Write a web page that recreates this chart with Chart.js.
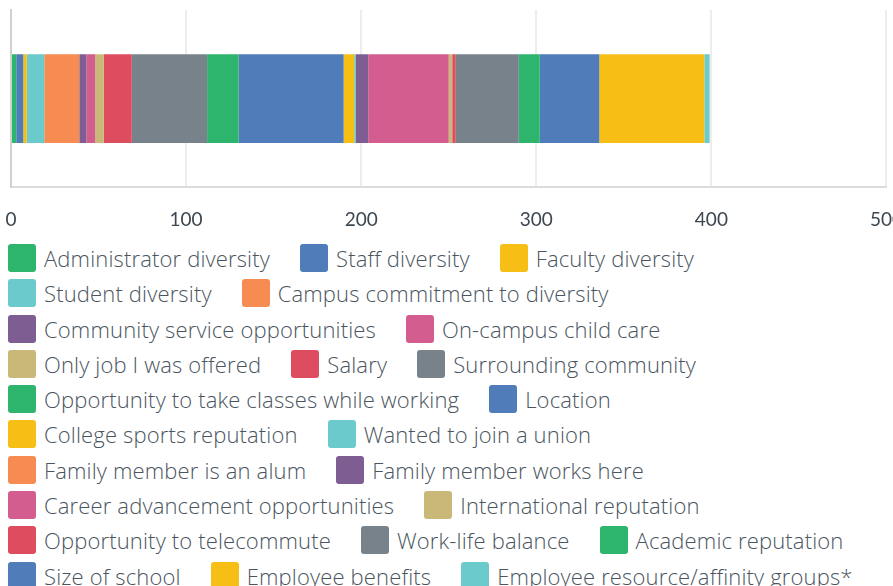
<!DOCTYPE html>
<html>
<head>
<meta charset="utf-8">
<script src="https://cdn.jsdelivr.net/npm/chart.js@4/dist/chart.umd.min.js"></script>
<style>
  html, body { margin: 0; padding: 0; background: #fff; overflow: hidden; }
  body { width: 893px; height: 586px; position: relative; font-family: "Open Sans", Lato, sans-serif; }
  #chartBox { position: absolute; left: 0; top: 0; width: 903px; height: 231px; }
  #legend {
    position: absolute; left: 8px; top: 244px; width: 870px;
    display: flex; flex-wrap: wrap; column-gap: 30px; row-gap: 7.3px;
  }
  .item { display: flex; align-items: center; height: 28px; white-space: nowrap; }
  .swatch { width: 28px; height: 28px; border-radius: 3px; margin-right: 8px; flex: none; }
  .label { font-size: 22px; font-weight: 300; letter-spacing: 0.15px; color: #4a5560; }
</style>
</head>
<body>
<div id="chartBox"><canvas id="chart"></canvas></div>
<div id="legend"></div>
<script>
// single stacked bar
const categories = [''];

const seriesNames = [
  'Administrator diversity', 'Staff diversity', 'Faculty diversity',
  'Student diversity', 'Campus commitment to diversity',
  'Community service opportunities', 'On-campus child care',
  'Only job I was offered', 'Salary', 'Surrounding community',
  'Opportunity to take classes while working', 'Location',
  'College sports reputation', 'Wanted to join a union',
  'Family member is an alum', 'Family member works here',
  'Career advancement opportunities', 'International reputation',
  'Opportunity to telecommute', 'Work-life balance', 'Academic reputation',
  'Size of school', 'Employee benefits', 'Employee resource/affinity groups*'
];

const seriesValues = [3, 4, 2, 10, 20, 4, 5, 5, 16, 43, 18, 60, 6, 1, 0, 7, 46, 2, 2, 36, 12, 34, 60, 3];

const tickLabels = [0, 100, 200, 300, 400, 500];

const palette = ['#2DB56D', '#507CB9', '#F7BE16', '#6BCACB', '#F78C52',
                 '#7E5E92', '#D45D8F', '#C9B877', '#DE4D5F', '#78828A'];

const datasets = seriesNames.map((name, i) => ({
  label: name,
  data: [seriesValues[i]],
  backgroundColor: palette[i % palette.length],
  borderWidth: 0,
  barPercentage: 0.625,
  categoryPercentage: 0.8
}));

const ctx = document.getElementById('chart').getContext('2d');
const chart = new Chart(ctx, {
  type: 'bar',
  data: { labels: categories, datasets: datasets },
  options: {
    indexAxis: 'y',
    responsive: true,
    maintainAspectRatio: false,
    animation: false,
    layout: { padding: { left: 11, top: 10, right: 0, bottom: 0 } },
    plugins: { legend: { display: false }, tooltip: { enabled: false } },
    scales: {
      x: {
        stacked: true,
        min: tickLabels[0],
        max: tickLabels[tickLabels.length - 1],
        afterBuildTicks: axis => { axis.ticks = tickLabels.map(v => ({ value: v })); },
        grid: { color: '#ededed', lineWidth: 2, drawTicks: true, tickLength: 21, tickColor: 'rgba(0,0,0,0)' },
        border: { color: '#dcdcdc', width: 2 },
        ticks: {
          padding: 0,
          maxRotation: 0,
          color: '#3d4750',
          font: { family: 'Lato', size: 19 }
        }
      },
      y: {
        stacked: true,
        grid: { display: false, drawTicks: false },
        border: { color: '#d0d0d0', width: 2 },
        ticks: { display: false, padding: 0 }
      }
    }
  }
});

// html legend, built from the same series
const legend = document.getElementById('legend');
seriesNames.forEach((name, i) => {
  const item = document.createElement('div');
  item.className = 'item';
  const sw = document.createElement('span');
  sw.className = 'swatch';
  sw.style.background = palette[i % palette.length];
  const txt = document.createElement('span');
  txt.className = 'label';
  txt.textContent = name;
  item.appendChild(sw);
  item.appendChild(txt);
  legend.appendChild(item);
});
</script>
</body>
</html>
